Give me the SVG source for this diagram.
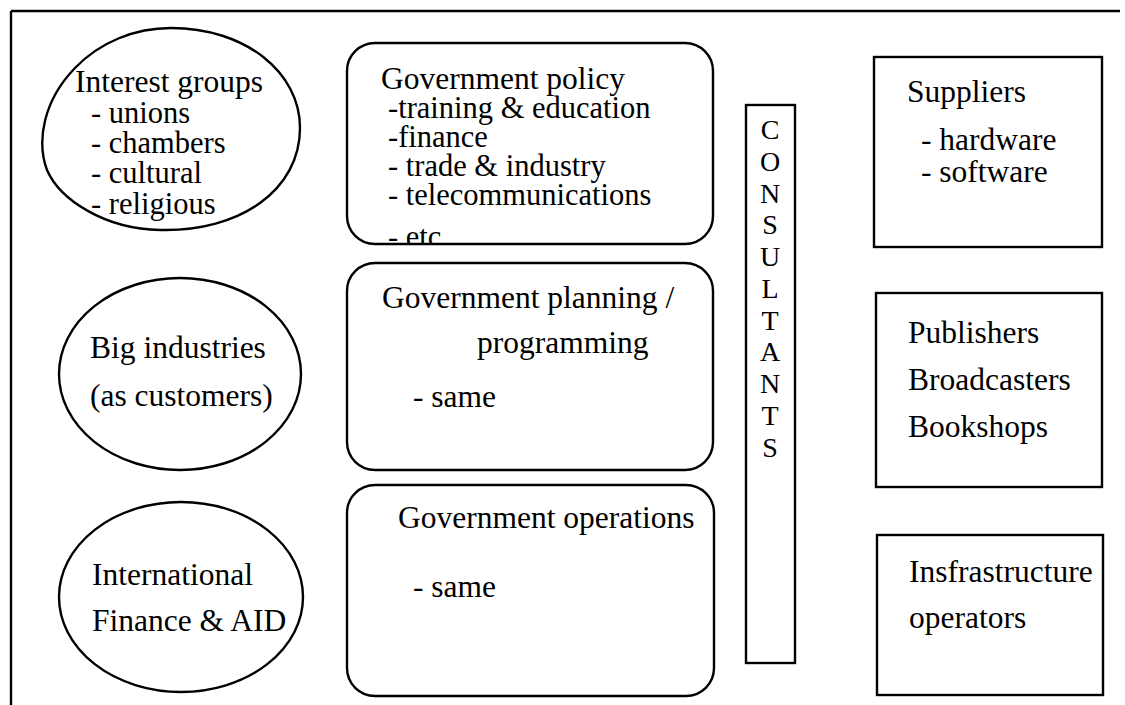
<svg xmlns="http://www.w3.org/2000/svg" width="1125" height="705" viewBox="0 0 1125 705">
<style>
text{font-family:"Liberation Serif","Times New Roman",serif;font-size:31.5px;fill:#000}
.d{font-size:30.5px}
.s{fill:none;stroke:#000;stroke-width:2.4}
.c{text-anchor:middle;font-size:28px}
</style>
<defs><clipPath id="clipEtc"><rect x="350" y="200" width="360" height="44"/></clipPath></defs>
<rect width="1125" height="705" fill="#fff"/>
<g id="frame"><path class="s" d="M11 11 H1120 M11 11 V705" stroke-width="2.6"/></g>
<g id="interest-groups"><path class="s" d="M171 28 C245 28 300 72 300 128 C300 190 240 232 160 230 C105 229 60 200 47 170 C36 140 44 100 75 68 C100 42 135 28 171 28 Z"/>
<text x="75" y="92">Interest groups</text>
<text class="d" x="91" y="123">- unions</text>
<text class="d" x="91" y="153">- chambers</text>
<text class="d" x="91" y="183">- cultural</text>
<text class="d" x="91" y="214">- religious</text></g>
<g id="big-industries"><ellipse class="s" cx="180" cy="374" rx="121" ry="96"/>
<text x="90" y="358">Big industries</text>
<text x="90" y="406">(as customers)</text></g>
<g id="international"><ellipse class="s" cx="181" cy="597" rx="122" ry="95"/>
<text x="92" y="585">International</text>
<text x="92" y="631">Finance &amp; AID</text></g>
<g id="gov-policy"><rect class="s" x="347" y="43" width="366" height="201" rx="28"/>
<text x="381" y="89">Government policy</text>
<text class="d" x="388" y="118">-training &amp; education</text>
<text class="d" x="388" y="147">-finance</text>
<text class="d" x="388" y="176">- trade &amp; industry</text>
<text class="d" x="388" y="205">- telecommunications</text>
<text class="d" x="388" y="247" clip-path="url(#clipEtc)">- etc</text></g>
<g id="gov-planning"><rect class="s" x="347" y="263" width="366" height="207" rx="28"/>
<text x="382" y="308">Government planning /</text>
<text x="477" y="353">programming</text>
<text x="413" y="407">- same</text></g>
<g id="gov-operations"><rect class="s" x="347" y="485" width="367" height="211" rx="28"/>
<text x="398" y="528">Government operations</text>
<text x="413" y="597">- same</text></g>
<g id="consultants"><rect class="s" x="746" y="105" width="49" height="558"/>
<text class="c" x="770" y="139">C</text>
<text class="c" x="770" y="171">O</text>
<text class="c" x="770" y="203">N</text>
<text class="c" x="770" y="234">S</text>
<text class="c" x="770" y="266">U</text>
<text class="c" x="770" y="298">L</text>
<text class="c" x="770" y="330">T</text>
<text class="c" x="770" y="361">A</text>
<text class="c" x="770" y="393">N</text>
<text class="c" x="770" y="425">T</text>
<text class="c" x="770" y="457">S</text></g>
<g id="suppliers"><rect class="s" x="874" y="57" width="228" height="190"/>
<text x="907" y="102">Suppliers</text>
<text x="921" y="150">- hardware</text>
<text x="921" y="182">- software</text></g>
<g id="publishers"><rect class="s" x="876" y="293" width="226" height="194"/>
<text x="908" y="343">Publishers</text>
<text x="908" y="390">Broadcasters</text>
<text x="908" y="437">Bookshops</text></g>
<g id="infrastructure"><rect class="s" x="877" y="535" width="226" height="160"/>
<text x="909" y="582">Insfrastructure</text>
<text x="909" y="628">operators</text></g>
<g id="connectors"/>
</svg>
